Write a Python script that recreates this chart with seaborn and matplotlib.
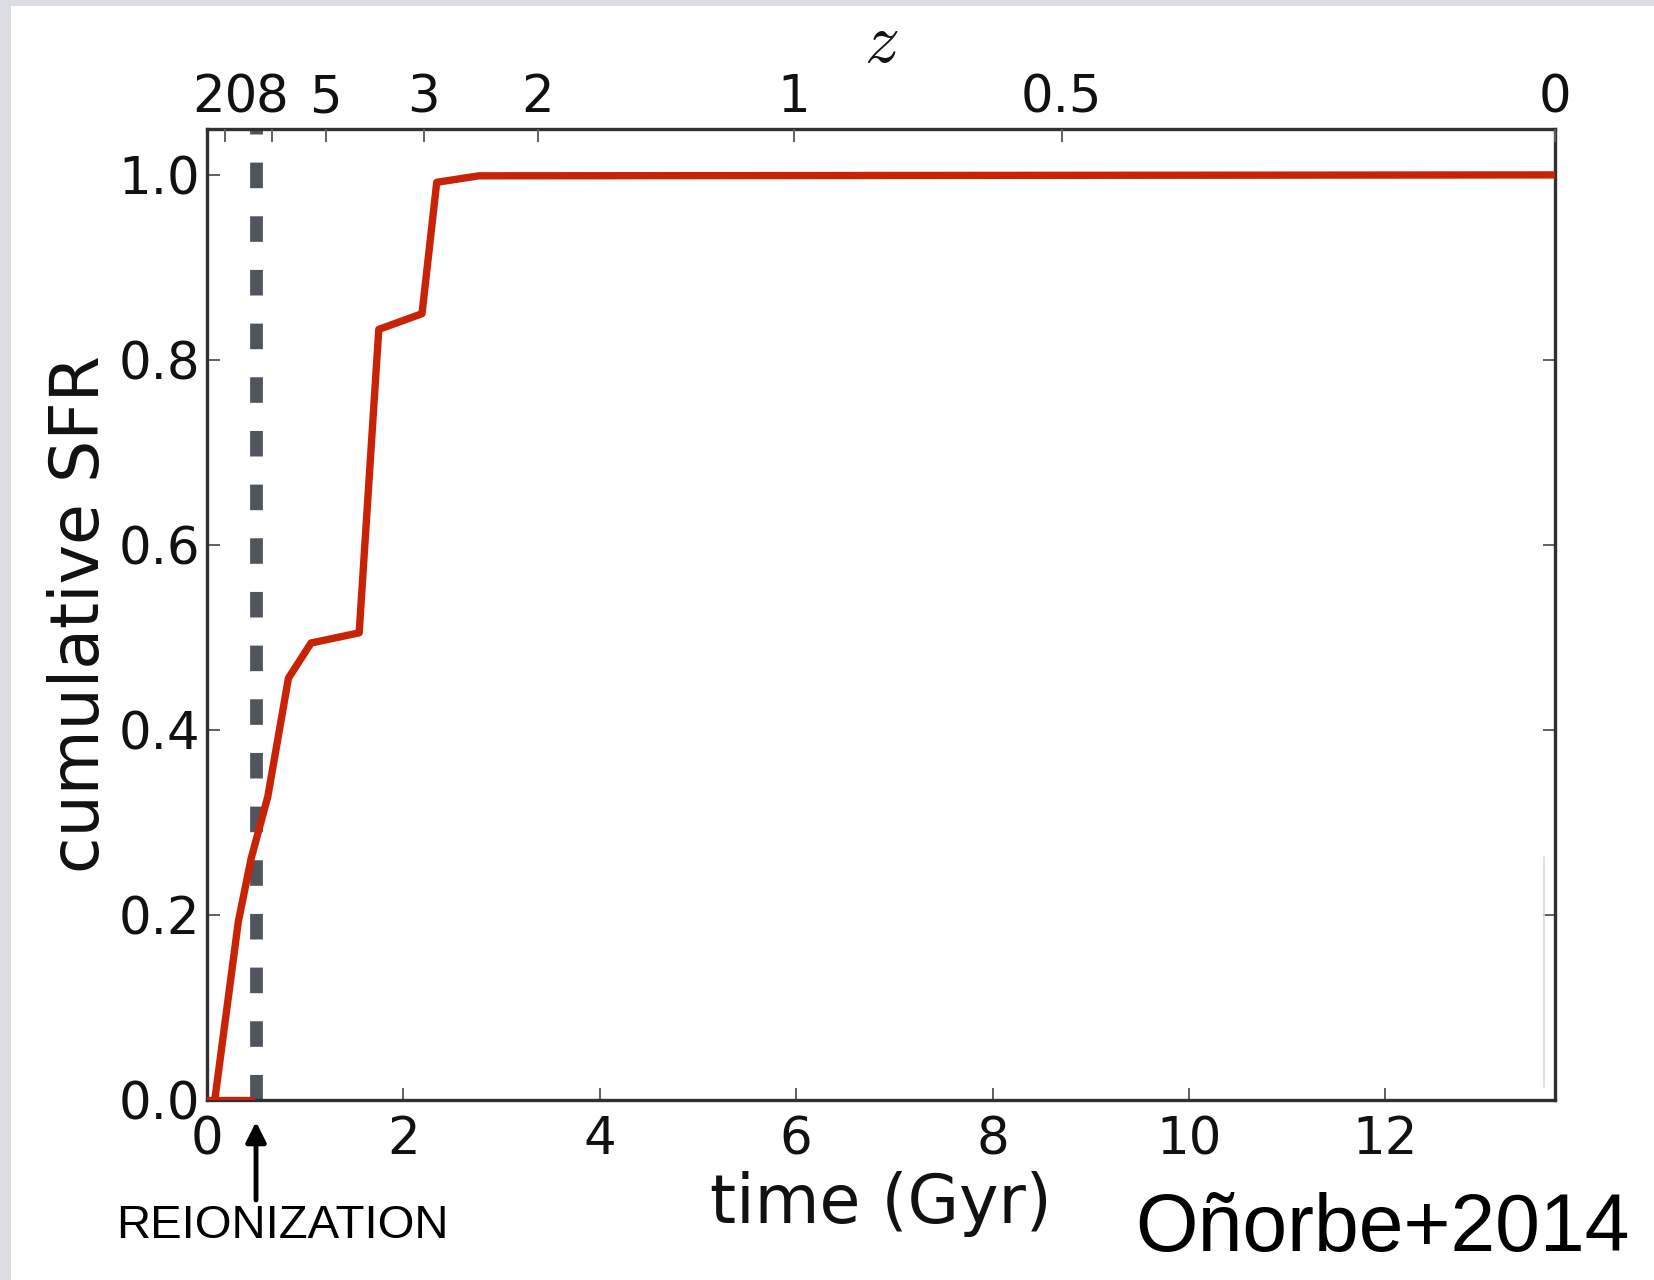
import numpy as np
import pandas as pd
import matplotlib
matplotlib.use("Agg")
import matplotlib.pyplot as plt
from matplotlib.patches import Rectangle
import seaborn as sns

# Cumulative star formation history of the dwarf halo
time_gyr = [0.08, 0.32, 0.45, 0.62, 0.83, 1.06, 1.55, 1.75, 2.19, 2.34, 2.77, 13.73]
cum_sfr = [0.0, 0.193, 0.261, 0.328, 0.456, 0.494, 0.505, 0.833, 0.850, 0.992, 0.999, 1.0]

# Pre-reionization floor
floor_time = [0.0, 0.45]
floor_sfr = [0.0, 0.0]

# Reionization epoch (Gyr)
t_reion = 0.5

# Bottom and top axis ticks
time_ticks = [0, 2, 4, 6, 8, 10, 12]
sfr_ticks = [0.0, 0.2, 0.4, 0.6, 0.8, 1.0]
z_ticks = [20, 8, 5, 3, 2, 1, 0.5, 0]
z_labels = ["20", "8", "5", "3", "2", "1", "0.5", "0"]

# Flat LCDM cosmology used for the redshift axis
H0 = 71.0
Om = 0.266


def cosmic_age(z):
    OL = 1.0 - Om
    hubble_time = 977.8 / H0
    z = np.asarray(z, dtype=float)
    return (2.0 / 3.0) * hubble_time / np.sqrt(OL) * np.arcsinh(
        np.sqrt(OL / Om) * (1.0 + z) ** -1.5)


sns.set_style("white")
plt.rcParams["font.family"] = ["DejaVu Sans"]
plt.rcParams["mathtext.fontset"] = "cm"

fig = plt.figure(figsize=(16.54, 12.8), dpi=100)
fig.patch.set_facecolor("white")
ax = fig.add_axes([0.1251, 0.1406, 0.8151, 0.7589])

df = pd.DataFrame({"time": time_gyr, "sfr": cum_sfr})
sns.lineplot(data=df, x="time", y="sfr", ax=ax, color="#c92306",
             linewidth=5.3, sort=False, zorder=3)
sns.lineplot(x=floor_time, y=floor_sfr, ax=ax, color="#c92306",
             linewidth=5.3, sort=False, zorder=3)

ax.plot([t_reion, t_reion], [0, 1.05], color="#50555d", linewidth=9.2,
        dashes=(2.0, 2.2), solid_capstyle="butt", dash_capstyle="butt",
        zorder=2)

t0 = float(cosmic_age(0))
ax.set_xlim(0, t0)
ax.set_ylim(0, 1.05)
ax.set_xticks(time_ticks)
ax.set_xticklabels([str(t) for t in time_ticks])
ax.set_yticks(sfr_ticks)
ax.set_yticklabels([f"{v:.1f}" for v in sfr_ticks])

ax.set_xlabel("time (Gyr)", fontsize=48, labelpad=4, color="#111111")
ax.set_ylabel("cumulative SFR", fontsize=48, labelpad=4, color="#111111")

for side in ax.spines.values():
    side.set_linewidth(2.4)
    side.set_color("#303030")
    side.set_visible(True)

ax.tick_params(axis="both", direction="in", length=9, width=1.4,
               color="#606060", labelsize=37, labelcolor="#111111")
ax.tick_params(axis="x", pad=11)
ax.tick_params(axis="y", pad=5, right=True, left=True)
ax.tick_params(axis="x", bottom=True, top=False)

# Redshift axis on top
ax2 = ax.twiny()
ax2.set_xlim(ax.get_xlim())
ax2.set_xticks(cosmic_age(z_ticks))
ax2.set_xticklabels(z_labels)
ax2.tick_params(axis="x", direction="in", length=9, width=1.4,
                color="#606060", labelsize=37, labelcolor="#111111", pad=4)
ax2.set_xlabel("$z$", fontsize=50, labelpad=8, color="#111111")
for side in ax2.spines.values():
    side.set_visible(False)

# Faint vertical trace near the right edge
ax.axvline(13.61, ymin=0.013, ymax=0.25, color="#d8d8d8", linewidth=1.2,
           zorder=1)

# Reionization marker below the time axis
ax.annotate("", xy=(t_reion, -0.0235), xytext=(t_reion, -0.108),
            xycoords="data", textcoords="data", annotation_clip=False,
            arrowprops=dict(arrowstyle="-|>,head_length=1.2,head_width=0.6",
                            color="black", linewidth=3.5,
                            shrinkA=0, shrinkB=0))
fig.text(0.1708, 0.0328, "REIONIZATION", fontsize=34,
         family=["Liberation Sans", "DejaVu Sans"], color="black",
         ha="center", va="baseline")
fig.text(0.9855, 0.0225, "Oñorbe+2014", fontsize=58,
         family=["Liberation Sans", "DejaVu Sans"], color="black",
         ha="right", va="baseline")

# Grey frame along the top and left edges
fig.patches.append(Rectangle((0, 0), 11 / 1654, 1, transform=fig.transFigure,
                             facecolor="#dcdde2", edgecolor="none", zorder=-1))
fig.patches.append(Rectangle((0, 1 - 6 / 1280), 1, 6 / 1280,
                             transform=fig.transFigure, facecolor="#dcdde2",
                             edgecolor="none", zorder=-1))

fig.savefig("out.png", dpi=100)
